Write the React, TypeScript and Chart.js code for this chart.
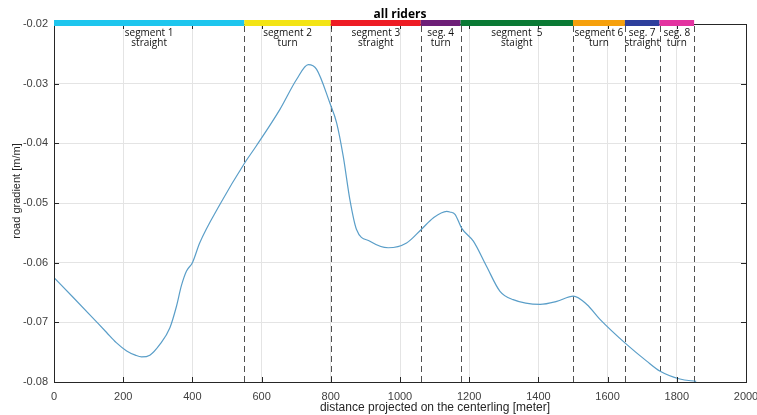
import React, { useEffect, useRef } from "react";
import { Chart, registerables } from "chart.js";

Chart.register(...registerables);

// distance along the centerline [m]
const distance = [
  0, 55, 103, 152, 180, 210, 235, 253, 277, 306, 335, 354, 368, 383, 400, 421, 479, 551, 585, 653,
  701, 735, 759, 797, 817, 836, 855, 874, 913, 966, 1019, 1062, 1096, 1135, 1144, 1159, 1178,
  1212, 1250, 1289, 1327, 1405, 1453, 1501, 1540, 1578, 1655, 1713, 1752, 1809, 1856,
];
// road gradient [m/m]
const gradient = [
  -0.0625, -0.0658, -0.0687, -0.0717, -0.0734, -0.0748, -0.0755, -0.0758, -0.0755, -0.0737,
  -0.0709, -0.0673, -0.0639, -0.0614, -0.06, -0.0567, -0.0503, -0.0433, -0.0404, -0.0343,
  -0.0293, -0.0268, -0.0276, -0.0332, -0.0366, -0.0422, -0.0494, -0.0544, -0.0564, -0.0575,
  -0.0567, -0.0544, -0.0525, -0.0514, -0.0515, -0.0519, -0.0542, -0.0564, -0.0606, -0.0648,
  -0.0662, -0.067, -0.0665, -0.0656, -0.067, -0.0695, -0.0737, -0.0765, -0.0782, -0.0795,
  -0.0799,
];

// segment boundaries [m]
const segStart = [0, 550, 800, 1060, 1175, 1500, 1650, 1750];
const segEnd = [550, 800, 1060, 1175, 1500, 1650, 1750, 1850];
const segLine1 = ["segment 1", "segment 2", "segment 3", "seg. 4", "segment  5", "segment 6", "seg. 7", "seg. 8"];
const segLine2 = ["straight", "turn", "straight", "turn", "staight", "turn", "straight", "turn"];
const segColors = ["#1ec6ee", "#f3e415", "#ee1c24", "#6e1f78", "#0a7a34", "#f6a00c", "#2e3f9c", "#e333a0"];

const xTicks = [0, 200, 400, 600, 800, 1000, 1200, 1400, 1600, 1800, 2000];
const yTicks = [-0.08, -0.07, -0.06, -0.05, -0.04, -0.03, -0.02];

const title = "all riders";
const xTitle = "distance projected on the centerling [meter]";
const yTitle = "road gradient [m/m]";

const overlay = {
  id: "overlay",
  beforeDatasetsDraw(chart: any) {
    const { ctx, chartArea: a, scales } = chart;
    const xs = scales.x;
    ctx.save();
    // segment labels
    ctx.fillStyle = "#111111";
    ctx.font = "10px 'Open Sans'";
    ctx.textAlign = "center";
    ctx.textBaseline = "middle";
    for (let i = 0; i < segStart.length; i++) {
      const cx = (xs.getPixelForValue(segStart[i]) + xs.getPixelForValue(segEnd[i])) / 2;
      ctx.fillText(segLine1[i], cx, a.top + 9);
      ctx.fillText(segLine2[i], cx, a.top + 19);
    }
    // dashed boundaries
    ctx.strokeStyle = "#505050";
    ctx.lineWidth = 1;
    ctx.setLineDash([6, 4]);
    for (let i = 0; i < segEnd.length; i++) {
      const px = Math.round(xs.getPixelForValue(segEnd[i])) + 0.5;
      ctx.beginPath();
      ctx.moveTo(px, a.top + 2);
      ctx.lineTo(px, a.bottom);
      ctx.stroke();
    }
    ctx.restore();
  },
  afterDraw(chart: any) {
    const { ctx, chartArea: a, scales } = chart;
    const xs = scales.x;
    const ys = scales.y;
    ctx.save();
    // frame
    ctx.strokeStyle = "#262626";
    ctx.lineWidth = 1;
    ctx.strokeRect(Math.round(a.left) + 0.5, Math.round(a.top) + 0.5, Math.round(a.right - a.left), Math.round(a.bottom - a.top));
    // inner ticks
    ctx.beginPath();
    for (const t of xTicks) {
      const px = Math.round(xs.getPixelForValue(t)) + 0.5;
      ctx.moveTo(px, a.bottom);
      ctx.lineTo(px, a.bottom - 5);
      ctx.moveTo(px, a.top);
      ctx.lineTo(px, a.top + 5);
    }
    for (const t of yTicks) {
      const py = Math.round(ys.getPixelForValue(t)) + 0.5;
      ctx.moveTo(a.left, py);
      ctx.lineTo(a.left + 5, py);
      ctx.moveTo(a.right, py);
      ctx.lineTo(a.right - 5, py);
    }
    ctx.stroke();
    // colored segment bar
    for (let i = 0; i < segStart.length; i++) {
      const x0 = xs.getPixelForValue(segStart[i]);
      const x1 = xs.getPixelForValue(segEnd[i]);
      ctx.fillStyle = segColors[i];
      ctx.fillRect(x0, a.top - 4, x1 - x0, 6);
    }
    // title
    ctx.fillStyle = "#000000";
    ctx.font = "bold 12px 'Open Sans'";
    ctx.textAlign = "center";
    ctx.textBaseline = "middle";
    ctx.fillText(title, 400, 15);
    // axis titles
    ctx.fillStyle = "#262626";
    ctx.font = "12px 'Liberation Sans'";
    ctx.fillText(xTitle, 435, 408);
    ctx.translate(17, 191);
    ctx.rotate(-Math.PI / 2);
    ctx.font = "11px 'Liberation Sans'";
    ctx.fillText(yTitle, 0, 0);
    ctx.restore();
  },
};

export default function App() {
  const ref = useRef<HTMLCanvasElement | null>(null);
  useEffect(() => {
    if (!ref.current) return;
    const points = distance.map((d, i) => ({ x: d, y: gradient[i] }));
    const chart = new Chart(ref.current, {
      type: "line",
      data: {
        datasets: [
          {
            data: points,
            borderColor: "#5a9ec8",
            borderWidth: 1.2,
            pointRadius: 0,
            cubicInterpolationMode: "monotone",
            fill: false,
          },
        ],
      },
      options: {
        animation: false,
        responsive: false,
        maintainAspectRatio: false,
        layout: { padding: { top: 24, right: 11, left: 0, bottom: 0 } },
        plugins: { legend: { display: false }, tooltip: { enabled: false }, title: { display: false } },
        scales: {
          x: {
            type: "linear",
            min: 0,
            max: 2000,
            afterFit: (s: any) => {
              s.height = 33;
              s.paddingLeft = 0;
              s.paddingRight = 0;
            },
            afterBuildTicks: (s: any) => {
              s.ticks = xTicks.map((v) => ({ value: v }));
            },
            ticks: {
              color: "#404040",
              font: { family: "'Liberation Sans'", size: 11 },
              padding: 8,
              maxRotation: 0,
              autoSkip: false,
              callback: (v: any) => String(v),
            },
            grid: { color: "#e4e4e4", drawTicks: false },
            border: { display: false },
          },
          y: {
            type: "linear",
            min: -0.08,
            max: -0.02,
            afterFit: (s: any) => {
              s.width = 54;
              s.paddingTop = 0;
              s.paddingBottom = 0;
            },
            afterBuildTicks: (s: any) => {
              s.ticks = yTicks.map((v) => ({ value: v }));
            },
            ticks: {
              color: "#404040",
              font: { family: "'Liberation Sans'", size: 11 },
              padding: 6,
              callback: (v: any) => Number(v).toFixed(2),
            },
            grid: { color: "#e4e4e4", drawTicks: false },
            border: { display: false },
          },
        },
      },
      plugins: [overlay],
    });
    return () => chart.destroy();
  }, []);
  return (
    <div style={{ position: "fixed", left: 0, top: 0, width: 757, height: 415, background: "#ffffff" }}>
      <canvas ref={ref} width={757} height={415} style={{ display: "block" }} />
    </div>
  );
}
